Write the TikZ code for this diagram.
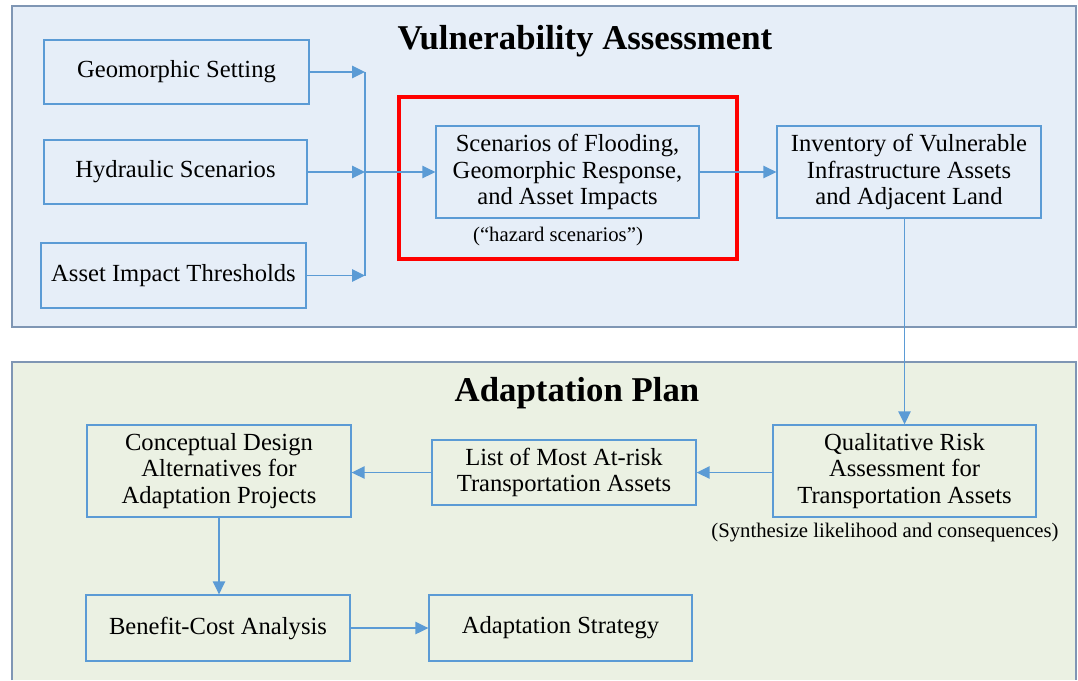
\documentclass[tikz,border=0pt]{standalone}
\usepackage{fontspec}
\setmainfont{Liberation Serif}
\usetikzlibrary{arrows.meta, positioning}

\definecolor{boxblue}{RGB}{91,155,213}
\definecolor{panelline}{RGB}{127,150,180}
\definecolor{vulnfill}{RGB}{230,238,248}
\definecolor{adaptfill}{RGB}{235,241,227}

\tikzset{
  blockbox/.style={draw=boxblue, line width=0.8pt, align=center, inner sep=0pt,
    font=\fontsize{14}{15}\selectfont},
  flow/.style={draw=boxblue, line width=0.8pt, -{Triangle[length=2.6mm,width=2.5mm]}},
  panel/.style={line width=0.8pt, draw=panelline},
  paneltitle/.style={font=\fontsize{19.8}{22}\selectfont\bfseries},
  note/.style={font=\fontsize{11.8}{13}\selectfont}
}

\begin{document}
\begin{tikzpicture}[x=0.02cm, y=-0.02cm]
\useasboundingbox (0,0) rectangle (1078,680);

% panels
\fill[vulnfill] (12,6) rectangle (1076,327);
\draw[panel] (12,6) rectangle (1076,327);
\fill[adaptfill] (12,362) rectangle (1076,680);
\draw[panel] (12,680) -- (12,362) -- (1076,362) -- (1076,680);

\node[paneltitle] (vulntitle) at (585,41) {Vulnerability Assessment};
\node[paneltitle] (adapttitle) at (577,393) {Adaptation Plan};

% vulnerability boxes
\node[blockbox, minimum width=5.3cm, minimum height=1.28cm] (geo) at (176.5,72) {Geomorphic Setting};
\node[blockbox, minimum width=5.26cm, minimum height=1.28cm] (hyd) at (175.5,172) {Hydraulic Scenarios};
\node[blockbox, minimum width=5.3cm, minimum height=1.3cm] (thr) at (173.5,275.5) {Asset Impact Thresholds};
\node[blockbox, minimum width=5.26cm, minimum height=1.84cm] (scen) at (567.5,172) {Scenarios of Flooding,\\Geomorphic Response,\\and Asset Impacts};
\node[note] (hazard) at (558,237) {(``hazard scenarios'')};
\node[blockbox, minimum width=5.28cm, minimum height=1.84cm] (inv) at (909,172) {Inventory of Vulnerable\\Infrastructure Assets\\and Adjacent Land};

% highlight
\draw[red, line width=1.8pt] (399,97) rectangle (737,259);

% adaptation boxes
\node[blockbox, minimum width=5.26cm, minimum height=1.84cm] (qual) at (904.5,471) {Qualitative Risk\\Assessment for\\Transportation Assets};
\node[note] (synth) at (885,533) {(Synthesize likelihood and consequences)};
\node[blockbox, minimum width=5.28cm, minimum height=1.3cm] (list) at (564,472.5) {List of Most At-risk\\Transportation Assets};
\node[blockbox, minimum width=5.28cm, minimum height=1.84cm] (conc) at (219,471) {Conceptual Design\\Alternatives for\\Adaptation Projects};
\node[blockbox, minimum width=5.28cm, minimum height=1.32cm] (ben) at (218,628) {Benefit-Cost Analysis};
\node[blockbox, minimum width=5.26cm, minimum height=1.32cm] (strat) at (560.5,628) {Adaptation Strategy};

% connectors
\coordinate (bus) at (365,172);
\draw[flow] (geo.east) -- (geo.east -| bus);
\draw[flow] (hyd.east) -- (hyd.east -| bus);
\draw[flow] (thr.east) -- (thr.east -| bus);
\draw[draw=boxblue, line width=0.8pt] (geo.east -| bus) -- (thr.east -| bus);
\draw[flow] (bus) -- (scen.west);
\draw[flow] (scen.east) -- (inv.west);
\draw[flow] (qual.north |- inv.south) -- (qual.north);
\draw[flow] (qual.west |- list.east) -- (list.east);
\draw[flow] (list.west) -- (list.west -| conc.east);
\draw[flow] (conc.south) -- (conc.south |- ben.north);
\draw[flow] (ben.east) -- (ben.east -| strat.west);
\end{tikzpicture}
\end{document}
